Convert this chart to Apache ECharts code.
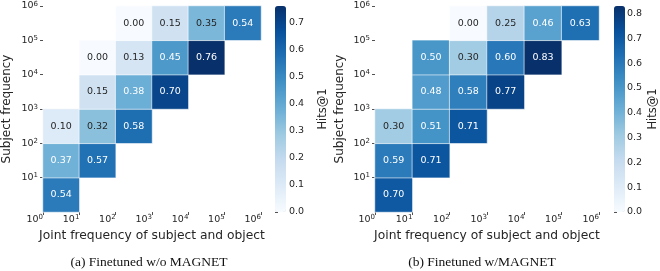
<!DOCTYPE html>
<html>
<head>
<meta charset="utf-8">
<script src="https://cdn.jsdelivr.net/npm/echarts@6.0.0/dist/echarts.min.js"></script>
<style>
  html, body { margin: 0; padding: 0; background: #fff; }
  #chart { width: 660px; height: 271px; }
</style>
</head>
<body>
<div id="chart"></div>
<script>
// exponent of the bin edges (10^0 ... 10^6)
const edgeExponents = [0, 1, 2, 3, 4, 5, 6]
const binNames = ['1e0-1e1', '1e1-1e2', '1e2-1e3', '1e3-1e4', '1e4-1e5', '1e5-1e6']

// Hits@1, rows = subject frequency bin (bottom to top), cols = joint frequency bin
const hitsWithout = [
  [0.54, null, null, null, null, null],
  [0.37, 0.57, null, null, null, null],
  [0.10, 0.32, 0.58, null, null, null],
  [null, 0.15, 0.38, 0.70, null, null],
  [null, 0.00, 0.13, 0.45, 0.76, null],
  [null, null, 0.00, 0.15, 0.35, 0.54]
]
const hitsWith = [
  [0.70, null, null, null, null, null],
  [0.59, 0.71, null, null, null, null],
  [0.30, 0.51, 0.71, null, null, null],
  [null, 0.48, 0.58, 0.77, null, null],
  [null, 0.50, 0.30, 0.60, 0.83, null],
  [null, null, 0.00, 0.25, 0.46, 0.63]
]

const colorbarTicksA = [0, 0.1, 0.2, 0.3, 0.4, 0.5, 0.6, 0.7]
const colorbarTicksB = [0, 0.1, 0.2, 0.3, 0.4, 0.5, 0.6, 0.7, 0.8]
const captions = ['(a) Finetuned w/o MAGNET', '(b) Finetuned w/MAGNET']

// matplotlib "Blues"
const blues = ['#f7fbff', '#deebf7', '#c6dbef', '#9ecae1', '#6baed6', '#4292c6', '#2171b5', '#08519c', '#08306b']

const chart = echarts.init(document.getElementById('chart'))
const font = 'DejaVu Sans'
const ink = '#262626'

const option = {
  animation: false,
  textStyle: { fontFamily: font },
  title: [],
  grid: [],
  xAxis: [],
  yAxis: [],
  visualMap: [],
  series: []
}

function maxOf (m) {
  let mx = 0
  m.forEach(row => row.forEach(v => { if (v !== null && v > mx) mx = v }))
  return mx
}

function powLabel (v) {
  return '{b|10}{s|' + v + '}'
}
const powRich = {
  b: { fontSize: 9.5, color: ink, fontFamily: font, lineHeight: 11 },
  s: { fontSize: 7, color: ink, fontFamily: font, lineHeight: 7, verticalAlign: 'top', padding: [0, 0, 4, 0] }
}

function addPanel (k, values, cbTicks, p) {
  const vmax = maxOf(values)
  const g = option.grid.length
  // heatmap grid
  option.grid.push({ left: p.left, top: 6, width: p.width, height: 206 })
  // colorbar grid (for the ticks)
  option.grid.push({ left: p.cbLeft, top: 6, width: 11, height: 206 })

  const xi = option.xAxis.length
  const yi = option.yAxis.length
  option.xAxis.push(
    { type: 'category', gridIndex: g, position: 'top', data: binNames, show: false },
    {
      type: 'value', gridIndex: g, position: 'bottom', min: 0, max: 6, interval: 1,
      axisLine: { show: false }, splitLine: { show: false },
      axisTick: { show: true, length: 3, lineStyle: { color: ink, width: 0.8 } },
      axisLabel: { align: 'right', margin: 2, formatter: v => powLabel(edgeExponents[v]), rich: powRich },
      name: 'Joint frequency of subject and object',
      nameLocation: 'middle', nameGap: 16,
      nameTextStyle: { fontSize: 12.3, color: ink, fontFamily: font }
    },
    { type: 'value', gridIndex: g + 1, show: false, min: 0, max: 1 }
  )
  option.yAxis.push(
    { type: 'category', gridIndex: g, position: 'right', data: binNames, show: false },
    {
      type: 'value', gridIndex: g, position: 'left', min: 0, max: 6, interval: 1,
      axisLine: { show: false }, splitLine: { show: false },
      axisTick: { show: true, length: 3, customValues: edgeExponents.slice(1), lineStyle: { color: ink, width: 0.8 } },
      axisLabel: { margin: 5, customValues: edgeExponents.slice(1), formatter: v => powLabel(edgeExponents[v]), rich: powRich },
      name: 'Subject frequency',
      nameLocation: 'middle', nameGap: p.yNameGap,
      nameTextStyle: { fontSize: 12, color: ink, fontFamily: font }
    },
    {
      type: 'value', gridIndex: g + 1, position: 'right', min: 0, max: vmax,
      axisLine: { show: false }, splitLine: { show: false },
      axisTick: { show: true, length: 3, customValues: cbTicks, lineStyle: { color: ink, width: 0.8 } },
      axisLabel: { margin: 3, fontSize: 9.5, color: ink, customValues: cbTicks, formatter: v => v.toFixed(1) },
      name: 'Hits@1', nameLocation: 'middle', nameGap: p.cbNameGap, nameRotate: 90,
      nameTextStyle: { fontSize: 11.5, color: ink, fontFamily: font }
    }
  )

  const data = []
  values.forEach((row, r) => row.forEach((v, c) => {
    if (v === null) return
    data.push({
      value: [c, r, v],
      label: { color: v / vmax > 0.47 ? '#ffffff' : ink }
    })
  }))

  const si = option.series.length
  option.series.push({
    type: 'heatmap',
    xAxisIndex: xi,
    yAxisIndex: yi,
    data: data,
    itemStyle: { borderColor: '#ffffff', borderWidth: 0.6 },
    label: {
      show: true, fontSize: 9.5, fontFamily: font,
      formatter: d => d.value[2].toFixed(2)
    },
    emphasis: { disabled: true }
  })

  option.visualMap.push({
    type: 'continuous',
    seriesIndex: si,
    dimension: 2,
    min: 0,
    max: vmax,
    calculable: false,
    hoverLink: false,
    orient: 'vertical',
    left: p.cbLeft,
    top: 6,
    padding: 0,
    itemWidth: 11,
    itemHeight: 206,
    inRange: { color: blues }
  })

  option.title.push({
    text: captions[k],
    left: p.capX,
    top: 255,
    textAlign: 'center',
    padding: 0,
    textStyle: { fontFamily: 'Liberation Serif', fontWeight: 'normal', fontSize: 13.5, color: '#111' }
  })
}

addPanel(0, hitsWithout, colorbarTicksA, { left: 36.5, width: 224.5, cbLeft: 275, yNameGap: 30, cbNameGap: 31, capX: 149 })
addPanel(1, hitsWith, colorbarTicksB, { left: 375, width: 224, cbLeft: 614, yNameGap: 29, cbNameGap: 23, capX: 482 })

chart.setOption(option)
</script>
</body>
</html>
